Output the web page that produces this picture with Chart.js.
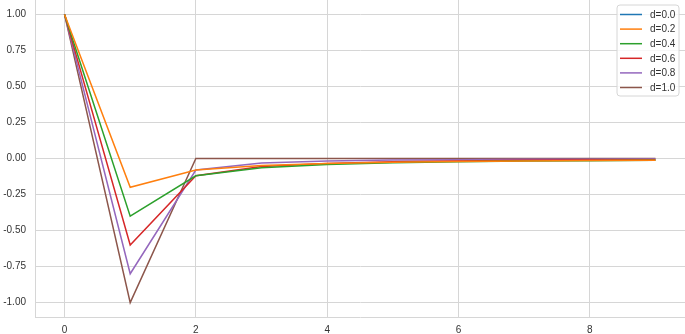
<!DOCTYPE html>
<html>
<head>
<meta charset="utf-8">
<script src="https://cdn.jsdelivr.net/npm/chart.js@4"></script>
<style>
  html, body { margin: 0; padding: 0; background: #fff; }
  #wrap { width: 685px; height: 334px; }
</style>
</head>
<body>
<div id="wrap"><canvas id="chart" width="685" height="334"></canvas></div>
<script>
'use strict';

// lag index on the x axis
const lags = [0, 1, 2, 3, 4, 5, 6, 7, 8, 9];

// series labels and values
const seriesLabels = ['d=0.0', 'd=0.2', 'd=0.4', 'd=0.6', 'd=0.8', 'd=1.0'];
const d00 = [1.0, null, null, null, null, null, null, null, null, null];
const d02 = [1.0, -0.2, -0.08, -0.048, -0.034, -0.026, -0.020, -0.017, -0.014, -0.012];
const d04 = [1.0, -0.4, -0.12, -0.064, -0.042, -0.030, -0.023, -0.018, -0.015, -0.013];
const d06 = [1.0, -0.6, -0.12, -0.056, -0.034, -0.023, -0.017, -0.013, -0.010, -0.009];
const d08 = [1.0, -0.8, -0.08, -0.032, -0.018, -0.011, -0.008, -0.006, -0.005, -0.004];
const d10 = [1.0, -1.0, 0.0, 0.0, 0.0, 0.0, 0.0, 0.0, 0.0, 0.0];
const seriesValues = [d00, d02, d04, d06, d08, d10];

const xTicks = [0, 2, 4, 6, 8];
const yTicks = [-1.0, -0.75, -0.5, -0.25, 0.0, 0.25, 0.5, 0.75, 1.0];

const colors = ['#1f77b4', '#ff7f0e', '#2ca02c', '#d62728', '#9467bd', '#8c564b'];
const gridColor = '#d6d6d6';
const textColor = '#333333';
const fontFamily = '"Liberation Sans", Arial, sans-serif';

let datasets = [];
for (let i = 0; i < seriesLabels.length; i++) {
  let pts = [];
  for (let j = 0; j < lags.length; j++) {
    pts.push({ x: lags[j], y: seriesValues[i][j] });
  }
  datasets.push({
    label: seriesLabels[i],
    data: pts,
    borderColor: colors[i],
    backgroundColor: colors[i],
    borderWidth: 1.5,
    pointRadius: 0,
    tension: 0,
    fill: false
  });
}

// matplotlib-style legend in the upper right corner
const boxLegend = {
  id: 'boxLegend',
  afterDraw(chart) {
    const ctx = chart.ctx;
    const x0 = 617, y0 = 5, w = 62, h = 91, r = 3;
    ctx.save();
    ctx.beginPath();
    ctx.moveTo(x0 + r, y0);
    ctx.arcTo(x0 + w, y0, x0 + w, y0 + h, r);
    ctx.arcTo(x0 + w, y0 + h, x0, y0 + h, r);
    ctx.arcTo(x0, y0 + h, x0, y0, r);
    ctx.arcTo(x0, y0, x0 + w, y0, r);
    ctx.closePath();
    ctx.fillStyle = 'rgba(255,255,255,0.8)';
    ctx.fill();
    ctx.strokeStyle = '#d6d6d6';
    ctx.lineWidth = 1;
    ctx.stroke();
    ctx.font = '10px ' + fontFamily;
    ctx.textBaseline = 'middle';
    ctx.fillStyle = textColor;
    chart.data.datasets.forEach((ds, i) => {
      const y = 14.5 + i * 14.6;
      ctx.beginPath();
      ctx.moveTo(620, y);
      ctx.lineTo(642, y);
      ctx.strokeStyle = ds.borderColor;
      ctx.lineWidth = 1.5;
      ctx.stroke();
      ctx.fillText(ds.label, 650, y + 0.5);
    });
    ctx.restore();
  }
};

const config = {
  type: 'line',
  data: { datasets: datasets },
  options: {
    responsive: false,
    animation: false,
    layout: { autoPadding: false, padding: 0 },
    plugins: {
      legend: { display: false },
      tooltip: { enabled: false }
    },
    scales: {
      x: {
        type: 'linear',
        min: -0.45,
        max: 9.45,
        afterBuildTicks: (scale) => { scale.ticks = xTicks.map(v => ({ value: v })); },
        afterFit: (scale) => {
          scale.height = 17;
          scale.paddingLeft = 0;
          scale.paddingRight = 0;
          scale.paddingTop = 0;
          scale.paddingBottom = 0;
        },
        grid: { color: gridColor, lineWidth: 1, drawTicks: false },
        border: { color: gridColor, width: 1 },
        ticks: {
          padding: 7,
          color: textColor,
          font: { family: fontFamily, size: 10 },
          maxRotation: 0
        }
      },
      y: {
        type: 'linear',
        min: -1.1,
        max: 1.1,
        afterBuildTicks: (scale) => { scale.ticks = yTicks.map(v => ({ value: v })); },
        afterFit: (scale) => {
          scale.width = 35;
          scale.paddingLeft = 0;
          scale.paddingRight = 0;
          scale.paddingTop = 0;
          scale.paddingBottom = 0;
        },
        grid: { color: gridColor, lineWidth: 1, drawTicks: false },
        border: { color: gridColor, width: 1 },
        ticks: {
          padding: 9,
          color: textColor,
          font: { family: fontFamily, size: 10 },
          callback: (v) => Number(v).toFixed(2)
        }
      }
    }
  },
  plugins: [boxLegend]
};

new Chart(document.getElementById('chart'), config);
</script>
</body>
</html>
